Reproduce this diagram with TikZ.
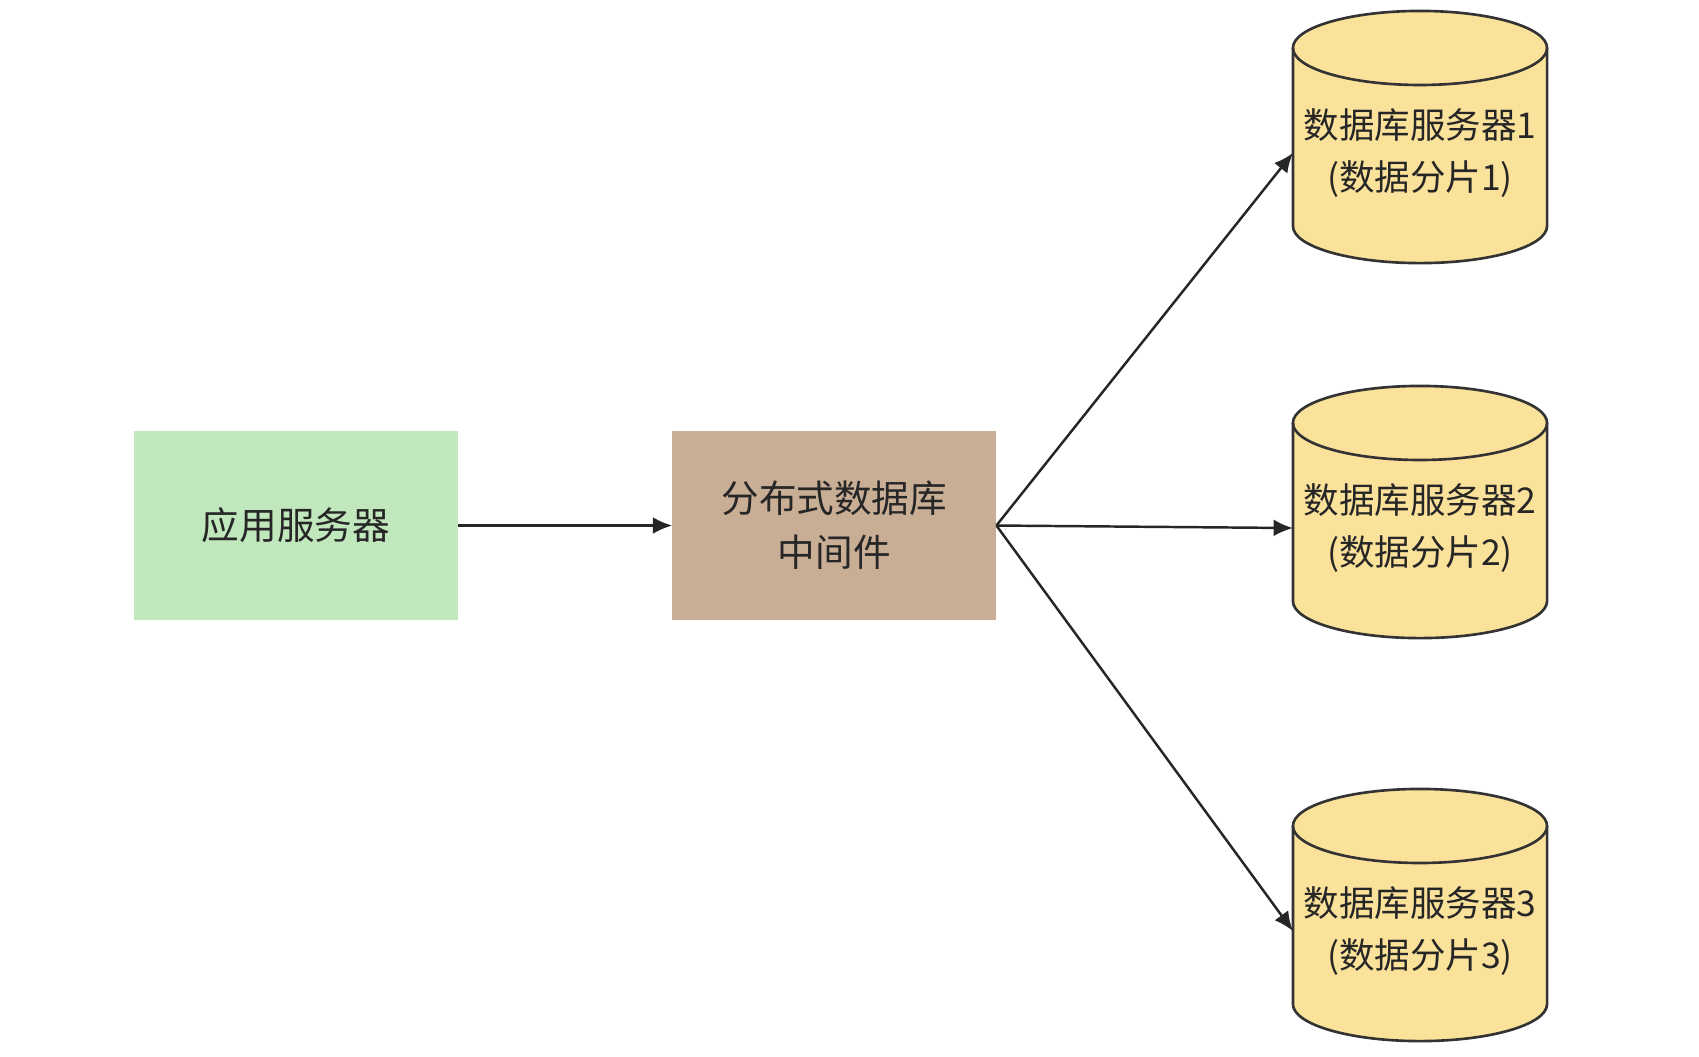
\documentclass[tikz,border=0pt]{standalone}
\usepackage{fontspec}
\setmainfont{Noto Sans CJK SC}
\usepackage{xcolor}
\usetikzlibrary{arrows.meta,positioning}

\definecolor{appgreen}{RGB}{193,232,189}
\definecolor{midbrown}{RGB}{201,174,150}
\definecolor{dbyellow}{RGB}{251,226,155}

\tikzset{
  box/.style={rectangle, minimum width=3.24cm, minimum height=1.89cm, outer sep=0pt,
    align=center, font=\fontsize{10.7}{15.4}\selectfont, text=black!85},
  db/.style={rectangle, minimum width=2.54cm, minimum height=2.52cm, inner sep=0pt,
    outer sep=0pt},
  dbline/.style={draw=black!80, line width=0.75pt},
  dbtext/.style={align=center, font=\fontsize{10.1}{14.8}\selectfont, text=black!85},
  link/.style={-{Latex[length=5.5pt,width=4.8pt]}, line width=0.7pt, draw=black!85},
}

\begin{document}
\begin{tikzpicture}[x=0.01cm,y=-0.01cm]

		\useasboundingbox (0,0) rectangle (1699,1056);

		% application and middleware
		\node[box, fill=appgreen] (app) at (296,525.5) {应用服务器};
		\node[box, fill=midbrown, right=2.14cm of app] (mid) {分布式数据库\\中间件};

		% database shards
		\node[db] (db1) at (1420,137) {};
		\node[db] (db2) at (1420,512) {};
		\node[db] (db3) at (1420,915) {};

		\foreach \n in {db1,db2,db3} {
			\filldraw[dbline, fill=dbyellow]
			([yshift=-0.37cm]\n.north west)
			arc[start angle=180, end angle=0, x radius=1.27cm, y radius=0.37cm]
			-- ([yshift=0.37cm]\n.south east)
			arc[start angle=0, end angle=-180, x radius=1.27cm, y radius=0.37cm]
			-- cycle;
			\draw[dbline] ([yshift=-0.37cm]\n.north east)
			arc[start angle=0, end angle=-180, x radius=1.27cm, y radius=0.37cm];
		}

		\node[dbtext] (t1) at ([yshift=-0.16cm]db1.center) {数据库服务器1\\(数据分片1)};
		\node[dbtext] (t2) at ([yshift=-0.16cm]db2.center) {数据库服务器2\\(数据分片2)};
		\node[dbtext] (t3) at ([yshift=-0.16cm]db3.center) {数据库服务器3\\(数据分片3)};

		\draw[link] (app) -- (mid);
		\draw[link] (mid.east) -- (db1.west |- t1.center);
		\draw[link] (mid.east) -- (db2.west |- t2.center);
		\draw[link] (mid.east) -- (db3.west |- t3.center);

\end{tikzpicture}
\end{document}
